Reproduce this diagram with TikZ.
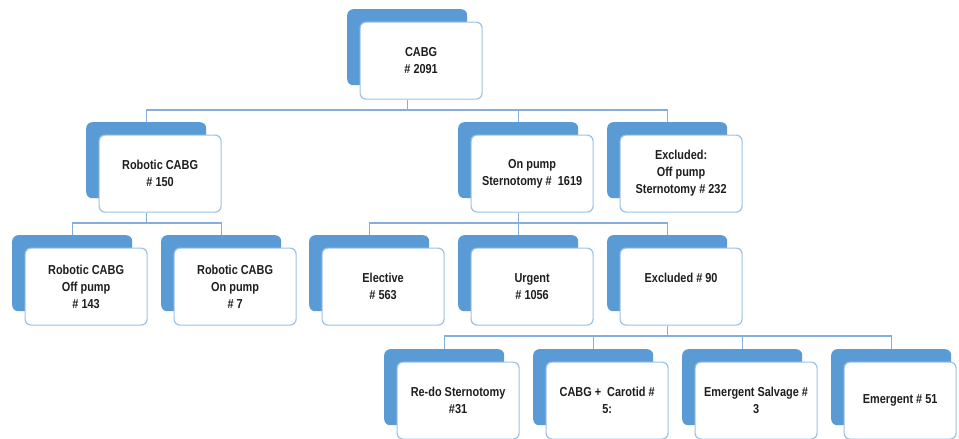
\documentclass[tikz,border=0pt]{standalone}
\usepackage{fontspec}
\setmainfont{Liberation Sans}[FakeStretch=0.84]
\definecolor{bluefill}{HTML}{5B9BD5}
\definecolor{borderblue}{HTML}{9DC3E6}
\definecolor{linkblue}{HTML}{86AEDC}
\definecolor{textgray}{HTML}{1E1E1E}
\newcommand\boxfont{\bfseries\fontsize{13}{17}\selectfont}
\newcommand\obox[5][122]{%
  \node[back] (#2b) at (#3,#4) {};
  \node[front, minimum width=#1pt] (#2) at (#3+12.5,#4+12.5) {#5};}
\begin{document}
\begin{tikzpicture}[x=1pt,y=-1pt,
  back/.style={fill=bluefill, draw=none, rounded corners=6pt, minimum width=120pt, minimum height=76pt, anchor=north west, inner sep=0pt},
  front/.style={fill=white, draw=borderblue, line width=1.2pt, rounded corners=6pt, minimum height=77pt, anchor=north west, inner sep=0pt, align=center, font=\boxfont, text=textgray},
  link/.style={draw=linkblue, line width=1.1pt}]
\useasboundingbox (0,0) rectangle (959,439);
% row 1
\obox{cabg}{347}{9}{CABG\\\# 2091}
% row 2
\obox{rob}{86}{122}{Robotic CABG\\\# 150}
\obox{onp}{458}{122}{On pump\\Sternotomy \#\ \ 1619}
\obox{exc}{607}{122}{Excluded:\\Off pump\\Sternotomy \# 232}
% row 3
\obox{roff}{12}{235}{Robotic CABG\\Off pump\\\# 143}
\obox{ron}{161}{235}{Robotic CABG\\On pump\\\# 7}
\obox{elec}{309}{235}{Elective\\\# 563}
\obox{urg}{458}{235}{Urgent\\\# 1056}
\obox{exn}{607}{235}{Excluded \# 90\\\mbox{}}
% row 4
\obox{redo}{384}{349}{Re-do Sternotomy\\\#31}
\obox{carot}{533}{349}{CABG + \ Carotid \#\\5:}
\obox{salv}{682}{349}{Emergent Salvage \#\\3}
\obox[112]{emer}{831}{349}{Emergent \# 51}
% bus levels
\coordinate (bus1) at (0,110);
\coordinate (bus2) at (0,223);
\coordinate (bus3) at (0,336);
% connectors
\draw[link] (cabgb.center |- cabg.south) -- (cabgb.center |- bus1);
\draw[link] (robb.north) -- (robb.north |- bus1) -- (excb.north |- bus1) -- (excb.north);
\draw[link] (onpb.north) -- (onpb.north |- bus1);
\draw[link] (robb.center |- rob.south) -- (robb.center |- bus2);
\draw[link] (roffb.north) -- (roffb.north |- bus2) -- (ronb.north |- bus2) -- (ronb.north);
\draw[link] (onpb.center |- onp.south) -- (onpb.center |- bus2);
\draw[link] (elecb.north) -- (elecb.north |- bus2) -- (exnb.north |- bus2) -- (exnb.north);
\draw[link] (urgb.north) -- (urgb.north |- bus2);
\draw[link] (exnb.center |- exn.south) -- (exnb.center |- bus3);
\draw[link] (redob.north) -- (redob.north |- bus3) -- (emerb.north |- bus3) -- (emerb.north);
\draw[link] (carotb.north) -- (carotb.north |- bus3);
\draw[link] (salvb.north) -- (salvb.north |- bus3);
\end{tikzpicture}
\end{document}
